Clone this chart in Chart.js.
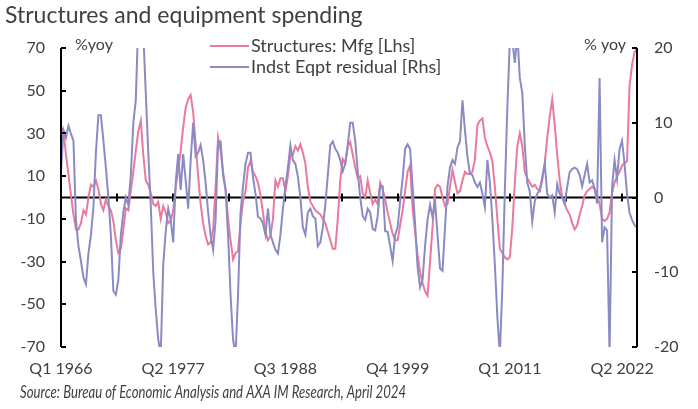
<!DOCTYPE html>
<html>
<head>
<meta charset="utf-8">
<title>Structures and equipment spending</title>
<script src="https://cdn.jsdelivr.net/npm/chart.js@4.4.1/dist/chart.umd.min.js"></script>
<style>
  html, body { margin: 0; padding: 0; background: #fff; }
  #wrap { width: 698px; height: 409px; }
</style>
</head>
<body>
<div id="wrap"><canvas id="chart" width="698" height="409"></canvas></div>
<script>
// quarterly series, Q1 1966 onward
const startYear = 1966;

// Structures: Mfg, % yoy (left axis)
const structuresMfg = [
  33, 31, 20, 11, 1, -8, -15, -15, -12, -6,
  -8, 0, 6, 5, 8, 4, -3, -6, -1, -4,
  -6, -11, -20, -26, -24, -15, -5, -6, 3, 12,
  22, 31, 36, 20, 8, 6, 2, -3, -4, -2,
  -10, -4, -7, -12, -11, -6, 5, 13, 22, 33,
  42, 46, 48, 40, 25, 10, -3, -12, -18, -22,
  -21, -15, 5, 28, 22, 12, 4, -10, -20, -29,
  -26, -25, -12, -2, 3, 14, 17, 12, 10, 7,
  1, -7, -16, -20, -18, -10, 8, 5, 9, 9,
  3, 10, 20, 20, 24, 22, 25, 21, 16, 5,
  -2, -4, -6, -7, -8, -10, -12, -16, -20, -24,
  -24, -10, 8, 18, 16, 24, 26, 20, 14, 9,
  10, 2, 0, 8, 2, -3, -1, -3, 7, 4,
  -1, -7, -12, -17, -20, -20, -13, -6, 3, 12,
  15, -5, -16, -27, -35, -40, -44, -46, -30, -14,
  4, 6, 5, 0, -4, -3, 5, 13, 7, 2,
  3, 8, 12, 11, 11, 12, 18, 34, 36, 37,
  28, 24, 21, 17, 5, -10, -24, -26, -28, -29,
  -28, -14, 7, 24, 30, 24, 12, 9, 7, 5,
  6, 4, 3, 8, 16, 28, 38, 46, 34, 20,
  8, 0, -3, -6, -8, -12, -15, -13, -8, -4,
  1, 3, 4, 5, 4, 1, -3, -10, -11, -10,
  -7, 2, 7, 10, 12, 15, 16, 17, 52, 62,
  68, 70
];

// Indst Eqpt residual, % yoy (right axis)
const eqptResidual = [
  3.6, 9, 8, 9.6, 8.5, 7.6, -3, -6.5, -8.5, -10.7,
  -11.6, -7.5, -5, -1.3, 6, 11, 11, 7.6, 4, 0,
  -5, -12.5, -13, -11, -5, -2, 0, -1, 3, 10,
  13, 24, 26, 22, 14, 6, -1, -10, -15, -19,
  -21, -9, -4.5, -1.5, -3, -6, 2, 5.8, 1, 5.8,
  2.3, -1.5, 5, 10, 5.5, 6, 7, 5, 2, -2,
  -5, -7, -3, 7.5, 7.5, 3, 1, -5, -13, -19,
  -21, -13, -2, 1.5, 4.5, 6, 6, 2.7, 0.5, -2.6,
  -2.8, -3.5, -5, -1.5, -5, -6, -7, -7.5, -5, -1.5,
  1.5, 4, 7, 5, 4.5, 2.8, 0, -4, -5, -2,
  -1.5, -2.5, -2.8, -6.5, -6, -4, -1, 3, 7, 7.5,
  6.5, 6, 5, 3.5, 4.5, 7, 10, 10, 7.6, 3.5,
  0, -2.5, -3, -1.5, -2, -4.2, -4.4, -2.5, 1.5, 1.5,
  -4.5, -4.6, -6.5, -8.5, -5, -4, -0.5, 2.5, 6.5, 7.1,
  6.5, 1.5, -3.5, -9.3, -12, -11, -6.5, -3, -1, -2.6,
  -0.5, -5, -9.5, -9.8, -4, 1.5, 4, 5, 4.5, 6.7,
  7.5, 13, 9, 5.5, 3.2, 3, 2, 1.4, 2, 0.5,
  -1.3, 5, 2, -3, -9, -16, -21, -12, 1, 12,
  21, 21, 18, 22, 16, 14, 7, 2, 0.8, -3.2,
  -0.5, 0.5, 1, 2.7, 4.5, 0.5, 0, 0.3, -2, 1.8,
  0.5, 0, -0.8, 1.4, 3.4, 3.8, 4, 3.8, 3, 1.5,
  3, 4.5, 2, 2.3, 1.2, -0.8, 16, -6, -4, -4.4,
  -21, 1.4, 5, 2.5, 6.5, 7.6, 4.5, 0.5, -2, -3,
  -3.7, -4
];

// tick labels shown on the x axis (every 45 quarters)
const xTickLabels = ['Q1 1966', 'Q2 1977', 'Q3 1988', 'Q4 1999', 'Q1 2011', 'Q2 2022'];
const leftTicks = [70, 50, 30, 10, -10, -30, -50, -70];
const rightTicks = [20, 10, 0, -10, -20];

// quarter categories
const quarters = [];
for (let i = 0; i < structuresMfg.length; i++) {
  quarters.push('Q' + (i % 4 + 1) + ' ' + (startYear + Math.floor(i / 4)));
}

const PINK = '#e9799d';
const BLUE = '#8b8bc4';
const TEXT = '#404040';
const FONT = 'Lato, "Open Sans", sans-serif';

// axis lines, legend and texts drawn straight on the canvas
const decorPlugin = {
  id: 'decor',
  beforeDatasetsDraw(chart) {
    const ctx = chart.ctx;
    const a = chart.chartArea;
    const x = chart.scales.x;
    const yl = chart.scales.yL;
    ctx.save();
    ctx.strokeStyle = '#000';
    ctx.lineWidth = 2;
    // zero line with small tick marks
    const y0 = yl.getPixelForValue(0);
    ctx.beginPath();
    ctx.moveTo(a.left, y0);
    ctx.lineTo(a.right, y0);
    ctx.stroke();
    for (let k = 1; k * 22.5 < quarters.length; k++) {
      const px = Math.round(x.getPixelForValue(k * 22.5));
      ctx.beginPath();
      ctx.moveTo(px, y0 - 4);
      ctx.lineTo(px, y0 + 4);
      ctx.stroke();
    }
    ctx.restore();
  },
  afterDraw(chart) {
    const ctx = chart.ctx;
    const a = chart.chartArea;
    const yl = chart.scales.yL;
    const yr = chart.scales.yR;
    ctx.save();
    ctx.strokeStyle = '#000';
    ctx.lineWidth = 2;
    // left axis
    ctx.beginPath();
    ctx.moveTo(a.left, a.top);
    ctx.lineTo(a.left, a.bottom);
    ctx.stroke();
    leftTicks.forEach(v => {
      const py = Math.round(yl.getPixelForValue(v));
      ctx.beginPath();
      ctx.moveTo(a.left, py);
      ctx.lineTo(a.left + 5, py);
      ctx.stroke();
    });
    // right axis
    ctx.beginPath();
    ctx.moveTo(a.right, a.top);
    ctx.lineTo(a.right, a.bottom);
    ctx.stroke();
    rightTicks.forEach(v => {
      const py = Math.round(yr.getPixelForValue(v));
      ctx.beginPath();
      ctx.moveTo(a.right, py);
      ctx.lineTo(a.right - 5, py);
      ctx.stroke();
    });

    // title
    ctx.fillStyle = TEXT;
    ctx.textBaseline = 'middle';
    ctx.textAlign = 'left';
    ctx.font = '23px ' + FONT;
    ctx.fillText('Structures and equipment spending', 5, 16);

    // units
    ctx.font = '16px ' + FONT;
    ctx.fillText('%yoy', 75, 45);
    ctx.textAlign = 'right';
    ctx.fillText('% yoy', 626, 45);

    // legend
    ctx.textAlign = 'left';
    ctx.font = '18px ' + FONT;
    [[PINK, 'Structures: Mfg [Lhs]', 46], [BLUE, 'Indst Eqpt residual [Rhs]', 67]].forEach(([c, t, py]) => {
      ctx.strokeStyle = c;
      ctx.lineWidth = 2;
      ctx.beginPath();
      ctx.moveTo(210, py);
      ctx.lineTo(249, py);
      ctx.stroke();
      ctx.fillStyle = TEXT;
      ctx.fillText(t, 251, py);
    });

    // source (Calibri italic is narrow, so squeeze to its width)
    ctx.font = 'italic 17px ' + FONT;
    ctx.fillText('Source: Bureau of Economic Analysis and AXA IM Research, April 2024', 20, 393, 386);
    ctx.restore();
  }
};

new Chart(document.getElementById('chart'), {
  type: 'line',
  data: {
    labels: quarters,
    datasets: [
      {
        label: 'Structures: Mfg [Lhs]',
        data: structuresMfg,
        yAxisID: 'yL',
        borderColor: PINK,
        borderWidth: 2,
        pointRadius: 0,
        tension: 0,
        order: 1
      },
      {
        label: 'Indst Eqpt residual [Rhs]',
        data: eqptResidual,
        yAxisID: 'yR',
        borderColor: BLUE,
        borderWidth: 2,
        pointRadius: 0,
        tension: 0,
        order: 0
      }
    ]
  },
  options: {
    responsive: false,
    animation: false,
    layout: { padding: { top: 48, left: 0, right: 0, bottom: 0 } },
    plugins: {
      legend: { display: false },
      tooltip: { enabled: false }
    },
    scales: {
      x: {
        type: 'category',
        offset: false,
        grid: { display: false, drawTicks: false },
        border: { display: false },
        ticks: {
          autoSkip: false,
          maxRotation: 0,
          padding: 12,
          color: TEXT,
          font: { family: FONT, size: 16 },
          callback: function(val, i) {
            return xTickLabels.includes(quarters[i]) && i % 45 === 0 ? quarters[i] : null;
          }
        },
        afterFit(scale) { scale.height = 62; }
      },
      yL: {
        position: 'left',
        min: -70,
        max: 70,
        grid: { display: false, drawTicks: false },
        border: { display: false },
        ticks: {
          stepSize: 20,
          padding: 16,
          color: TEXT,
          font: { family: FONT, size: 16 }
        },
        afterFit(scale) { scale.width = 61; }
      },
      yR: {
        position: 'right',
        min: -20,
        max: 20,
        grid: { display: false, drawTicks: false },
        border: { display: false },
        ticks: {
          stepSize: 10,
          padding: 17,
          color: TEXT,
          font: { family: FONT, size: 16 }
        },
        afterFit(scale) { scale.width = 61; }
      }
    }
  },
  plugins: [decorPlugin]
});
</script>
</body>
</html>
